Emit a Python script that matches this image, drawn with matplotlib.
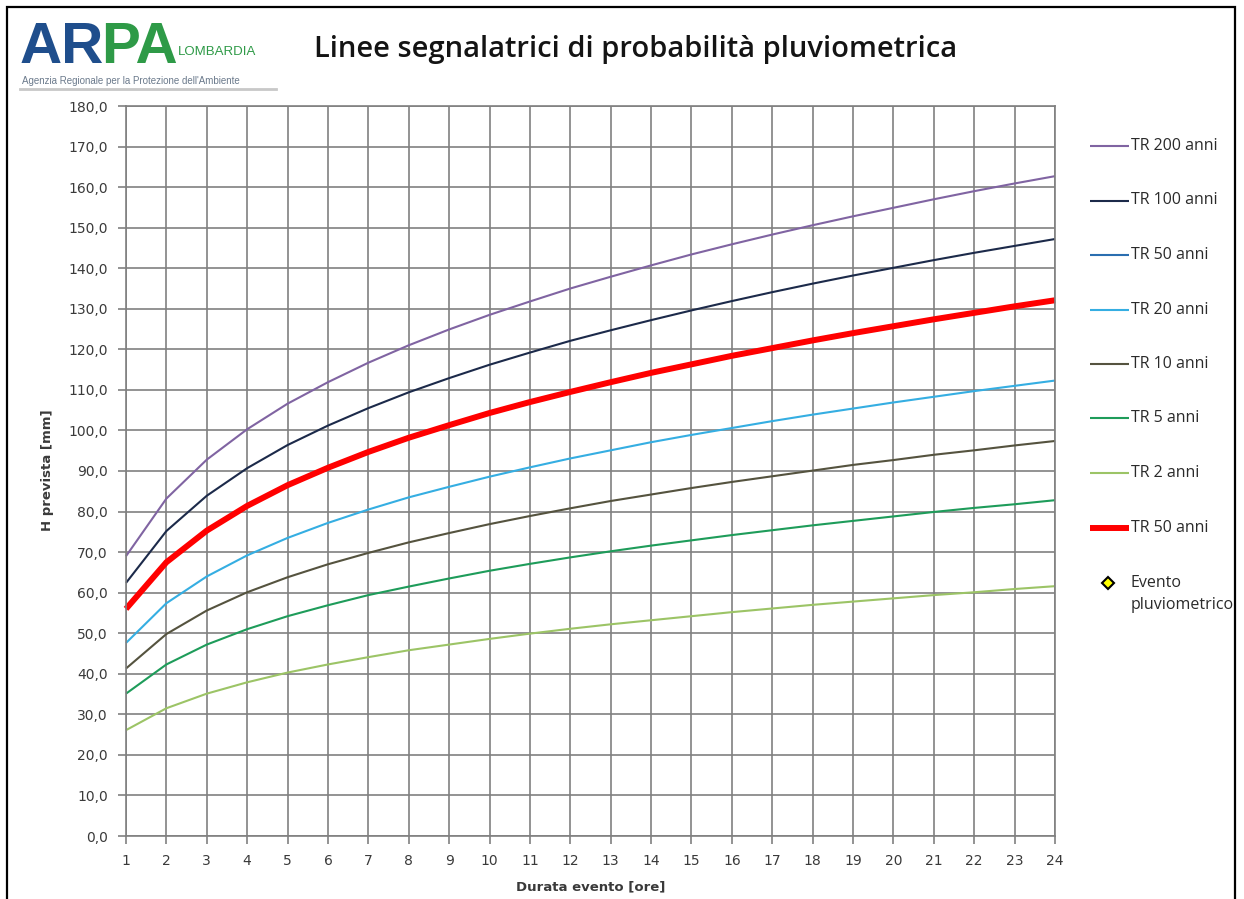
import matplotlib
matplotlib.use('Agg')
import matplotlib.pyplot as plt
from matplotlib.lines import Line2D
from matplotlib.patches import Rectangle
from matplotlib.ticker import FuncFormatter

# durata evento [ore]
durata = list(range(1, 25))

# altezze di pioggia [mm]
tr200 = [69.0, 83.2, 92.8, 100.3, 106.6, 111.9, 116.7, 121.0, 124.9, 128.5, 131.8, 135.0,
         137.9, 140.7, 143.4, 145.9, 148.3, 150.6, 152.8, 154.9, 157.0, 159.0, 160.9, 162.7]
tr100 = [62.4, 75.2, 83.9, 90.7, 96.4, 101.2, 105.5, 109.4, 112.9, 116.2, 119.2, 122.1,
         124.7, 127.2, 129.6, 131.9, 134.1, 136.2, 138.2, 140.1, 142.0, 143.8, 145.5, 147.2]
tr50 = [56.0, 67.5, 75.3, 81.4, 86.5, 90.8, 94.7, 98.2, 101.3, 104.3, 107.0, 109.5,
        111.9, 114.2, 116.3, 118.4, 120.3, 122.2, 124.0, 125.7, 127.4, 129.0, 130.6, 132.1]
tr20 = [47.6, 57.4, 64.0, 69.2, 73.5, 77.2, 80.5, 83.5, 86.1, 88.6, 90.9, 93.1,
        95.1, 97.1, 98.9, 100.6, 102.3, 103.9, 105.4, 106.9, 108.3, 109.7, 111.0, 112.3]
tr10 = [41.3, 49.8, 55.6, 60.1, 63.8, 67.0, 69.8, 72.4, 74.7, 76.9, 78.9, 80.8,
        82.6, 84.2, 85.8, 87.3, 88.7, 90.1, 91.5, 92.7, 94.0, 95.1, 96.3, 97.4]
tr5 = [35.1, 42.3, 47.2, 51.0, 54.2, 56.9, 59.4, 61.5, 63.5, 65.4, 67.1, 68.7,
       70.2, 71.6, 72.9, 74.2, 75.4, 76.6, 77.7, 78.8, 79.9, 80.9, 81.8, 82.8]
tr2 = [26.1, 31.5, 35.1, 37.9, 40.3, 42.3, 44.1, 45.8, 47.2, 48.6, 49.9, 51.1,
       52.2, 53.2, 54.2, 55.2, 56.1, 57.0, 57.8, 58.6, 59.4, 60.1, 60.9, 61.6]
# evento pluviometrico: nessun punto
evento_x = []
evento_y = []

serie = [
    ("TR 200 anni", tr200, "#8064A2", 1.5),
    ("TR 100 anni", tr100, "#1C2A4A", 1.5),
    ("TR 50 anni", tr50, "#2A6EB0", 1.5),
    ("TR 20 anni", tr20, "#35AEE2", 1.5),
    ("TR 10 anni", tr10, "#55533F", 1.5),
    ("TR 5 anni", tr5, "#1E9C5A", 1.5),
    ("TR 2 anni", tr2, "#9CC466", 1.5),
    ("TR 50 anni", tr50, "#FF0000", 4.3),
]

W, H = 1244, 899
fig = plt.figure(figsize=(W / 100, H / 100), dpi=100)
fig.patch.set_facecolor('white')

def fx(px):
    return px / W

def fy(py):
    return 1 - py / H

ax = fig.add_axes([fx(126), fy(836), (1055 - 126) / W, (836 - 106) / H])
ax.set_xlim(1, 24)
ax.set_ylim(0, 180)
ax.set_xticks(durata)
ax.set_yticks(range(0, 181, 10))
ax.yaxis.set_major_formatter(FuncFormatter(lambda v, p: f"{v:.1f}".replace('.', ',')))
ax.grid(color='#808080', lw=1.2)
ax.set_axisbelow(True)
for s in ax.spines.values():
    s.set_color('#808080')
    s.set_linewidth(1.2)
ax.tick_params(direction='out', length=6, width=1.2, color='#808080',
               labelcolor='#3a3a3a', labelsize=10)
ax.tick_params(axis='y', pad=7)
ax.tick_params(axis='x', pad=7)

for nome, valori, col, lw in serie:
    ax.plot(durata, valori, color=col, lw=lw, clip_on=False, solid_capstyle='butt')
ax.plot(evento_x, evento_y, 'D', mfc='#FFFF00', mec='black')

ax.set_xlabel("Durata evento [ore]", fontsize=9.5, fontweight='bold',
              color='#3a3a3a', labelpad=9)
fig.text(fx(47), fy(470), "H prevista [mm]", rotation=90, fontsize=9.5,
         fontweight='bold', color='#3a3a3a', ha='center', va='center')

# titolo
fig.text(fx(636), fy(50), "Linee segnalatrici di probabilità pluviometrica",
         family='Open Sans', fontsize=21, fontweight='semibold', color='#141414',
         ha='center', va='center')

# legenda disegnata a mano
for i, (nome, valori, col, lw) in enumerate(serie):
    y = fy(146 + 54.5 * i)
    fig.add_artist(Line2D([fx(1090), fx(1129)], [y, y], color=col, lw=lw,
                          solid_capstyle='butt'))
    fig.text(fx(1131), y, nome, family='Open Sans', fontsize=11.5,
             color='#2a2a2a', va='center', ha='left')
y = fy(583)
fig.add_artist(Line2D([fx(1108)], [y], marker='D', ms=6, mfc='#FFFF00',
                      mec='black', mew=1.5, ls='none'))
fig.text(fx(1131), y, "Evento", family='Open Sans', fontsize=11.5,
         color='#2a2a2a', va='center', ha='left')
fig.text(fx(1131), fy(605), "pluviometrico", family='Open Sans', fontsize=11.5,
         color='#2a2a2a', va='center', ha='left')

# logo ARPA
fig.text(fx(20), fy(63), "AR", fontsize=42, fontweight='bold', color='#1F4E8C',
         family='Liberation Sans', ha='left', va='baseline')
fig.text(fx(101), fy(63), "PA", fontsize=42, fontweight='bold', color='#2E9A47',
         family='Liberation Sans', ha='left', va='baseline')
fig.text(fx(178), fy(52), "LOMBARDIA", fontsize=9.5, color='#2E9A47',
         family='Liberation Sans', ha='left', va='center')
fig.text(fx(22), fy(81), "Agenzia Regionale per la Protezione dell'Ambiente",
         fontsize=7, color='#6b7a8c', family='Liberation Sans', ha='left', va='center')
fig.add_artist(Line2D([fx(20), fx(276)], [fy(89), fy(89)], color='#c8c8c8', lw=2))

# cornice
fig.add_artist(Rectangle((fx(1236), 0), 1, 1, transform=fig.transFigure,
                         facecolor='white', edgecolor='none', zorder=10))
fig.add_artist(Rectangle((fx(7), -0.1), fx(1235) - fx(7), fy(7) + 0.1,
                         transform=fig.transFigure, fill=False,
                         edgecolor='black', lw=1.6, zorder=11))

fig.savefig('out.png', dpi=100)
